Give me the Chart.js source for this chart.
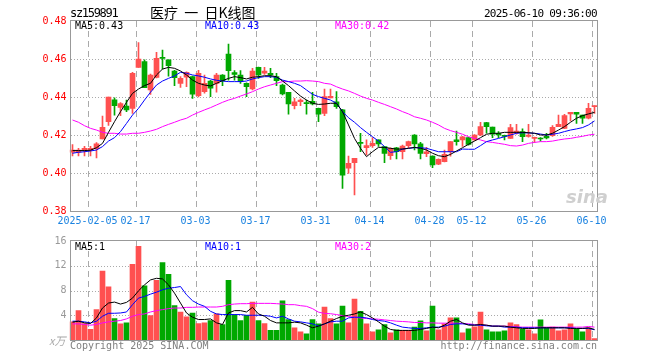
<!DOCTYPE html>
<html>
<head>
<meta charset="utf-8">
<script src="https://cdn.jsdelivr.net/npm/chart.js@4.4.1/dist/chart.umd.min.js"></script>
<style>
  body { margin: 0; background: #fff; }
  #wrap { position: relative; width: 660px; height: 360px; overflow: hidden; }
  canvas { position: absolute; left: 0; }
  #k { top: 0; }
  #v { top: 230px; }
  .t { position: absolute; font: 10px "DejaVu Sans Mono", monospace; line-height: 10px; white-space: nowrap; }
</style>
</head>
<body>
<div id="wrap">
  <canvas id="k" width="660" height="230"></canvas>
  <canvas id="v" width="660" height="130"></canvas>

  <div class="t" style="left:70px;top:7px;font-size:12px;line-height:12px;letter-spacing:-1.3px">sz159891</div>
  <div class="t" style="left:150px;top:5px;font:14px 'Noto Sans CJK SC';line-height:14px">医疗&nbsp; 一&nbsp; 日K线图</div>
  <div class="t" style="right:63px;top:8px;font-size:11px;line-height:11px;letter-spacing:-0.67px">2025-06-10 09:36:00</div>

  <div class="t" style="left:75px;top:21px;color:#000">MA5:0.43</div>
  <div class="t" style="left:205px;top:21px;color:#0000ff">MA10:0.43</div>
  <div class="t" style="left:335px;top:21px;color:#ff00ff">MA30:0.42</div>

  <div class="t" style="left:566px;top:186px;font:italic bold 18px 'DejaVu Sans';color:#cfcfcf">sina</div>

  <div class="t" style="left:75px;top:242px;color:#000">MA5:1</div>
  <div class="t" style="left:205px;top:242px;color:#0000ff">MA10:1</div>
  <div class="t" style="left:335px;top:242px;color:#ff00ff">MA30:2</div>

  <div class="t" style="left:49px;top:335px;font:italic 11px 'Noto Sans CJK SC';line-height:11px;color:#aaa">x万</div>
  <div class="t" style="left:70px;top:341px;color:#808080">Copyright 2025 SINA.COM</div>
  <div class="t" style="right:63px;top:341px;color:#808080">http://finance.sina.com.cn</div>
</div>
<script>
const dates = [
  "2025-01-23", "2025-01-24", "2025-01-27",
  "2025-02-05", "2025-02-06", "2025-02-07", "2025-02-10", "2025-02-11", "2025-02-12", "2025-02-13",
  "2025-02-14", "2025-02-17", "2025-02-18", "2025-02-19", "2025-02-20", "2025-02-21", "2025-02-24",
  "2025-02-25", "2025-02-26", "2025-02-27", "2025-02-28",
  "2025-03-03", "2025-03-04", "2025-03-05", "2025-03-06", "2025-03-07", "2025-03-10", "2025-03-11",
  "2025-03-12", "2025-03-13", "2025-03-14", "2025-03-17", "2025-03-18", "2025-03-19", "2025-03-20",
  "2025-03-21", "2025-03-24", "2025-03-25", "2025-03-26", "2025-03-27", "2025-03-28", "2025-03-31",
  "2025-04-01", "2025-04-02", "2025-04-03", "2025-04-07", "2025-04-08", "2025-04-09", "2025-04-10",
  "2025-04-11", "2025-04-14", "2025-04-15", "2025-04-16", "2025-04-17", "2025-04-18", "2025-04-21",
  "2025-04-22", "2025-04-23", "2025-04-24", "2025-04-25", "2025-04-28", "2025-04-29", "2025-04-30",
  "2025-05-06", "2025-05-07", "2025-05-08", "2025-05-09", "2025-05-12", "2025-05-13", "2025-05-14",
  "2025-05-15", "2025-05-16", "2025-05-19", "2025-05-20", "2025-05-21", "2025-05-22", "2025-05-23",
  "2025-05-26", "2025-05-27", "2025-05-28", "2025-05-29", "2025-05-30",
  "2025-06-03", "2025-06-04", "2025-06-05", "2025-06-06", "2025-06-09", "2025-06-10"
];

const tickDates = ["2025-02-05", "2025-02-17", "2025-03-03", "2025-03-17", "2025-03-31",
  "2025-04-14", "2025-04-28", "2025-05-12", "2025-05-26", "2025-06-10"];
const tickLabels = ["2025-02-05", "02-17", "03-03", "03-17", "03-31",
  "04-14", "04-28", "05-12", "05-26", "06-10"];
const priceLines = [0.40, 0.42, 0.44, 0.46];
const volLines = [4, 8, 12];

const open = [0.411,0.411,0.412,0.412,0.4128,0.418,0.427,0.4385,0.4345,0.4352,
  0.434,0.4556,0.4586,0.4437,0.4503,0.4605,0.4595,0.4537,0.4472,0.4505,
  0.4507,0.4407,0.4428,0.4484,0.4472,0.4516,0.4626,0.4528,0.4516,0.4472,
  0.4442,0.4556,0.4525,0.4525,0.4507,0.4463,0.4425,0.4354,0.4375,0.4368,
  0.4377,0.434,0.4314,0.4395,0.4375,0.4332,0.4025,0.4054,0.4158,0.4133,
  0.4144,0.4174,0.4139,0.4091,0.4133,0.4112,0.4144,0.42,0.4153,0.4102,
  0.4089,0.4046,0.406,0.4112,0.4175,0.4174,0.4186,0.4174,0.42,0.4265,
  0.4242,0.4209,0.4198,0.4182,0.4209,0.4218,0.4193,0.4182,0.418,0.4193,
  0.4196,0.4244,0.4235,0.4311,0.4319,0.4305,0.4288,0.4349];
const close = [0.412,0.412,0.413,0.413,0.4154,0.424,0.44,0.4355,0.4365,0.4332,
  0.4525,0.46,0.4449,0.4516,0.4603,0.4603,0.4565,0.4502,0.4498,0.453,
  0.4415,0.4525,0.4472,0.4446,0.4516,0.4484,0.4539,0.4519,0.4481,0.4454,
  0.4537,0.4516,0.4537,0.4516,0.4486,0.4416,0.4363,0.4375,0.4384,0.4365,
  0.4363,0.4309,0.4402,0.4404,0.4349,0.3989,0.4051,0.4077,0.4156,0.4144,
  0.4156,0.4153,0.4103,0.413,0.4112,0.4142,0.4165,0.4153,0.4103,0.4112,
  0.4042,0.4072,0.4098,0.4165,0.4165,0.4191,0.4151,0.42,0.4244,0.4244,
  0.4205,0.42,0.4193,0.4239,0.4221,0.4191,0.42,0.4188,0.4179,0.4184,
  0.424,0.4256,0.4302,0.4319,0.4309,0.4288,0.434,0.4354];
const high = [0.415,0.413,0.414,0.414,0.416,0.43,0.44,0.4396,0.437,0.4384,
  0.453,0.4686,0.4595,0.452,0.4635,0.4647,0.4595,0.454,0.4507,0.4532,
  0.451,0.454,0.4516,0.4488,0.4525,0.4518,0.4679,0.4539,0.4539,0.4475,
  0.4551,0.4558,0.4556,0.4551,0.4525,0.4468,0.4425,0.4393,0.439,0.4384,
  0.4425,0.4342,0.4442,0.4442,0.4428,0.4335,0.4089,0.4077,0.4209,0.4174,
  0.4186,0.4174,0.4139,0.4133,0.4135,0.4147,0.4168,0.4202,0.4161,0.4135,
  0.4091,0.4074,0.4121,0.4165,0.4221,0.4193,0.4188,0.4202,0.4267,0.4267,
  0.4242,0.4218,0.42,0.4256,0.4256,0.4232,0.4256,0.4189,0.4186,0.4209,
  0.4249,0.4305,0.4309,0.4319,0.4319,0.4305,0.4367,0.4354];
const low = [0.409,0.409,0.409,0.409,0.408,0.418,0.425,0.4305,0.4302,0.4323,
  0.4314,0.4556,0.4449,0.4414,0.45,0.4547,0.451,0.446,0.445,0.4455,
  0.4393,0.44,0.442,0.4402,0.4425,0.446,0.4489,0.4489,0.4472,0.4402,
  0.4437,0.4498,0.4519,0.4502,0.446,0.4411,0.4309,0.4337,0.4354,0.4309,
  0.4358,0.427,0.4302,0.4395,0.434,0.3919,0.3998,0.3884,0.4112,0.4095,
  0.4135,0.414,0.4054,0.4072,0.4074,0.4074,0.4133,0.4121,0.4074,0.4086,
  0.4028,0.4044,0.4058,0.4089,0.4147,0.414,0.4147,0.4172,0.4196,0.4209,
  0.4186,0.4186,0.4174,0.4182,0.4205,0.4165,0.4188,0.4161,0.4168,0.4179,
  0.4193,0.4244,0.4233,0.4274,0.4261,0.4261,0.4284,0.4314];

// moving averages
const ma5 = [0.4118,0.4118,0.4118,0.412,0.4133,0.4156,0.4214,0.427,0.4323,0.4372,
  0.4419,0.4442,0.446,0.4472,0.4516,0.4547,0.4556,0.4551,0.4537,0.4516,
  0.4489,0.4472,0.4463,0.4458,0.4472,0.4486,0.4498,0.4507,0.4502,0.4495,
  0.4504,0.4507,0.4512,0.4512,0.4507,0.4484,0.446,0.4432,0.4405,0.4384,
  0.4367,0.4361,0.4363,0.4367,0.4367,0.4323,0.4253,0.4182,0.413,0.4086,
  0.4112,0.4135,0.4135,0.413,0.4126,0.4126,0.413,0.4135,0.413,0.4121,
  0.4104,0.4091,0.4086,0.4098,0.4116,0.4133,0.4151,0.4168,0.4186,0.4204,
  0.4209,0.4209,0.4214,0.4214,0.4214,0.4214,0.4212,0.4209,0.42,0.42,
  0.4209,0.4226,0.4244,0.4267,0.4288,0.4302,0.4311,0.4319];
const ma10 = [0.4104,0.4109,0.4112,0.4116,0.4121,0.4139,0.4168,0.4186,0.4218,0.4261,
  0.4305,0.434,0.4384,0.4425,0.4463,0.4484,0.4498,0.4511,0.453,0.4525,
  0.4516,0.4511,0.4504,0.4495,0.4488,0.4484,0.4481,0.4481,0.4481,0.4484,
  0.4495,0.4502,0.4507,0.4507,0.4504,0.4489,0.4481,0.4472,0.446,0.4437,
  0.4414,0.4402,0.4393,0.4384,0.4367,0.4323,0.4291,0.4267,0.4239,0.4214,
  0.4191,0.4168,0.4139,0.4109,0.4112,0.4126,0.413,0.4133,0.4133,0.413,
  0.4121,0.4112,0.4112,0.4112,0.4112,0.4126,0.4125,0.4125,0.4144,0.4165,
  0.4174,0.4182,0.4191,0.42,0.4209,0.4212,0.4211,0.4209,0.4205,0.42,
  0.4204,0.4209,0.4218,0.4226,0.4232,0.4239,0.4253,0.4274];
const ma30 = [0.4279,0.4267,0.4249,0.4235,0.4226,0.4214,0.4209,0.4209,0.4205,0.4205,
  0.4209,0.4209,0.4214,0.4221,0.423,0.4244,0.4256,0.4267,0.4279,0.4288,
  0.4305,0.4319,0.4332,0.4344,0.4358,0.4372,0.4384,0.4393,0.4405,0.4416,
  0.4428,0.4442,0.4454,0.4463,0.4472,0.4481,0.4481,0.4484,0.4484,0.4486,
  0.4484,0.4481,0.4472,0.4468,0.4454,0.4442,0.4432,0.4419,0.4405,0.4393,
  0.4384,0.4372,0.4361,0.4349,0.4337,0.4323,0.4311,0.4296,0.4288,0.4279,
  0.4267,0.4253,0.4235,0.4223,0.4214,0.4204,0.4191,0.4182,0.4174,0.4165,
  0.4161,0.4156,0.4151,0.4144,0.4142,0.4147,0.4156,0.4161,0.4165,0.4165,
  0.4168,0.4174,0.4179,0.4182,0.4188,0.4193,0.42,0.4204];

// volume in 万
const volume = [2.93,4.75,2.67,1.71,4.91,11.15,8.59,3.47,2.61,2.77,
  12.21,15.15,8.75,3.95,9.65,12.53,10.61,5.55,4.53,3.73,
  4.37,2.67,2.77,3.15,4.21,2.51,9.65,4.11,3.15,4.0,
  6.13,3.15,2.67,1.55,1.55,6.35,3.31,1.97,1.33,1.01,
  3.31,2.61,5.33,3.47,2.61,5.49,2.77,6.61,4.64,2.61,
  1.33,1.65,2.51,1.17,1.65,1.55,1.55,2.08,3.09,1.49,
  5.49,1.65,2.61,3.57,3.57,1.17,1.81,2.13,4.53,1.65,
  1.33,1.33,1.49,2.77,2.51,1.71,1.65,1.01,3.25,1.97,
  2.08,1.49,1.65,2.61,1.76,1.33,1.97,0.21];
const volMa5 = [2.88,3.04,2.77,2.67,3.57,5.17,5.97,6.13,5.81,6.08,
  6.77,7.95,8.91,9.71,9.97,9.87,8.91,7.57,5.97,4.37,
  3.68,3.31,3.31,3.41,2.77,2.51,4.37,4.75,4.75,4.53,
  5.28,4.21,3.84,3.15,2.77,2.77,2.77,2.88,2.77,2.4,
  1.97,2.24,2.61,3.04,3.47,3.84,4.0,4.21,4.53,4.11,
  3.57,2.93,2.24,1.71,1.55,1.55,1.55,1.55,1.71,1.87,
  2.08,1.97,2.4,3.04,3.31,2.77,2.4,2.4,2.51,2.4,
  2.24,2.24,2.24,2.08,1.97,1.87,1.87,1.87,1.97,1.97,
  1.97,1.97,1.97,1.87,1.87,1.87,1.97,1.71];
const volMa10 = [3.04,3.04,2.93,2.77,3.04,3.84,4.32,4.32,4.37,4.53,
  5.71,6.77,7.04,7.41,7.73,8.11,8.37,8.48,8.64,7.31,
  6.35,5.81,5.44,4.64,4.21,4.11,4.11,4.11,4.11,4.0,
  4.0,4.0,3.95,3.84,3.57,3.84,3.41,3.04,2.93,2.77,
  2.61,2.24,2.61,2.93,3.04,3.04,3.57,3.68,3.68,3.57,
  3.31,3.15,3.04,2.77,2.4,2.08,1.97,1.87,1.87,1.97,
  2.08,2.08,2.24,2.51,2.61,2.61,2.51,2.4,2.4,2.29,
  2.24,2.24,2.08,2.08,2.08,1.97,1.97,1.97,1.97,1.97,
  1.97,1.97,1.97,1.97,1.87,1.87,1.87,1.65];
const volMa30 = [2.61,2.61,2.51,2.4,2.51,2.77,2.93,3.04,3.15,3.41,
  3.84,4.11,4.21,4.53,4.75,4.91,5.07,5.17,5.17,5.28,
  5.28,5.33,5.33,5.33,5.33,5.44,5.71,5.81,5.87,5.87,
  5.92,5.92,5.92,5.92,5.87,5.81,5.71,5.71,5.55,5.44,
  5.07,4.5,4.3,4.25,4.11,3.95,3.79,3.68,3.57,3.47,
  3.41,3.36,3.25,3.15,3.04,2.99,2.93,2.83,2.83,2.77,
  2.77,2.72,2.72,2.72,2.72,2.67,2.61,2.51,2.4,2.4,
  2.24,2.24,2.24,2.19,2.13,2.08,2.08,2.08,2.08,2.08,
  2.08,2.08,2.08,2.08,2.08,2.08,2.19,2.08];

const RED = "#ff5050";
const GREEN = "#00a800";
const GRID = "#aaaaaa";
const MONO = "DejaVu Sans Mono";

const colors = close.map((c, i) => (c >= open[i] ? RED : GREEN));
const tickIdx = tickDates.map((d) => dates.indexOf(d));

// dotted value lines, dashed date lines and the gray frame
// (setLineDash does not show up here, so the dashes are laid as small rects)
function panelGrid(valueLines) {
  return {
    id: "panelGrid",
    beforeDatasetsDraw(chart) {
      const { ctx, chartArea: a, scales: { x, y } } = chart;
      const left = Math.round(a.left), right = Math.round(a.right);
      const top = Math.round(a.top), bottom = Math.round(a.bottom);
      ctx.save();
      ctx.fillStyle = GRID;
      valueLines.forEach((v) => {
        const py = Math.round(y.getPixelForValue(v));
        for (let px = left + 1; px < right; px += 3) ctx.fillRect(px, py, 1, 1);
      });
      const half = (x.getPixelForTick(1) - x.getPixelForTick(0)) / 2;
      tickIdx.forEach((i) => {
        const px = Math.round(x.getPixelForTick(i) - half);
        for (let py = top; py < bottom; py += 10) ctx.fillRect(px, py, 1, Math.min(6, bottom - py));
      });
      ctx.restore();
    },
    afterDraw(chart) {
      const { ctx, chartArea: a } = chart;
      const l = Math.round(a.left) + 0.5, t = Math.round(a.top) - 0.5;
      const r = Math.round(a.right) - 0.5, b = Math.round(a.bottom) + 0.5;
      ctx.save();
      ctx.strokeStyle = "#999";
      ctx.lineWidth = 1;
      ctx.strokeRect(l, t, r - l, b - t);
      ctx.restore();
    },
  };
}

function maLine(data, color) {
  return { type: "line", data: data, borderColor: color, borderWidth: 1, pointRadius: 0, order: 0 };
}

function xScale(showTicks) {
  return {
    offset: true,
    grid: { display: false, drawTicks: false },
    border: { display: false },
    ticks: {
      display: showTicks,
      autoSkip: false,
      maxRotation: 0,
      padding: 4,
      labelOffset: -3,
      color: "#1a82e0",
      font: { family: MONO, size: 10 },
      callback: (v, i) => {
        const k = tickIdx.indexOf(i);
        return k < 0 ? "" : tickLabels[k];
      },
    },
    afterFit(s) { s.height = showTicks ? 19 : 20; },
  };
}

function yScale(min, max, step, color, fmt) {
  return {
    min: min,
    max: max,
    ticks: { stepSize: step, padding: 3, color: color, font: { family: MONO, size: 10 }, callback: fmt },
    grid: { display: false, drawTicks: false },
    border: { display: false },
    afterFit(s) { s.width = 69.5; },
  };
}

const common = {
  responsive: false,
  animation: false,
  events: [],
  plugins: { legend: { display: false }, tooltip: { enabled: false } },
};

new Chart(document.getElementById("k"), {
  type: "bar",
  data: {
    labels: dates,
    datasets: [
      maLine(ma5, "#000000"),
      maLine(ma10, "#0000ff"),
      maLine(ma30, "#ff00ff"),
      {
        data: open.map((o, i) => [o, close[i]]),
        backgroundColor: colors,
        barThickness: 5,
        minBarLength: 1,
        grouped: false,
        order: 1,
      },
      {
        data: low.map((l, i) => [l, high[i]]),
        backgroundColor: colors,
        barThickness: 1,
        grouped: false,
        order: 2,
      },
    ],
  },
  options: {
    ...common,
    layout: { padding: { left: 0, right: 62.5, top: 21, bottom: 0 } },
    scales: {
      x: xScale(true),
      y: yScale(0.38, 0.48, 0.02, "#ff0000", (v) => v.toFixed(2)),
    },
  },
  plugins: [panelGrid(priceLines)],
});

new Chart(document.getElementById("v"), {
  type: "bar",
  data: {
    labels: dates,
    datasets: [
      maLine(volMa5, "#000000"),
      maLine(volMa10, "#0000ff"),
      maLine(volMa30, "#ff00ff"),
      { data: volume, backgroundColor: colors, barThickness: 5, order: 1 },
    ],
  },
  options: {
    ...common,
    layout: { padding: { left: 0, right: 62.5, top: 11, bottom: 0 } },
    scales: {
      x: xScale(false),
      y: yScale(0, 16, 4, "#999999", (v) => (v === 0 ? "" : String(v))),
    },
  },
  plugins: [panelGrid(volLines)],
});
</script>
</body>
</html>
